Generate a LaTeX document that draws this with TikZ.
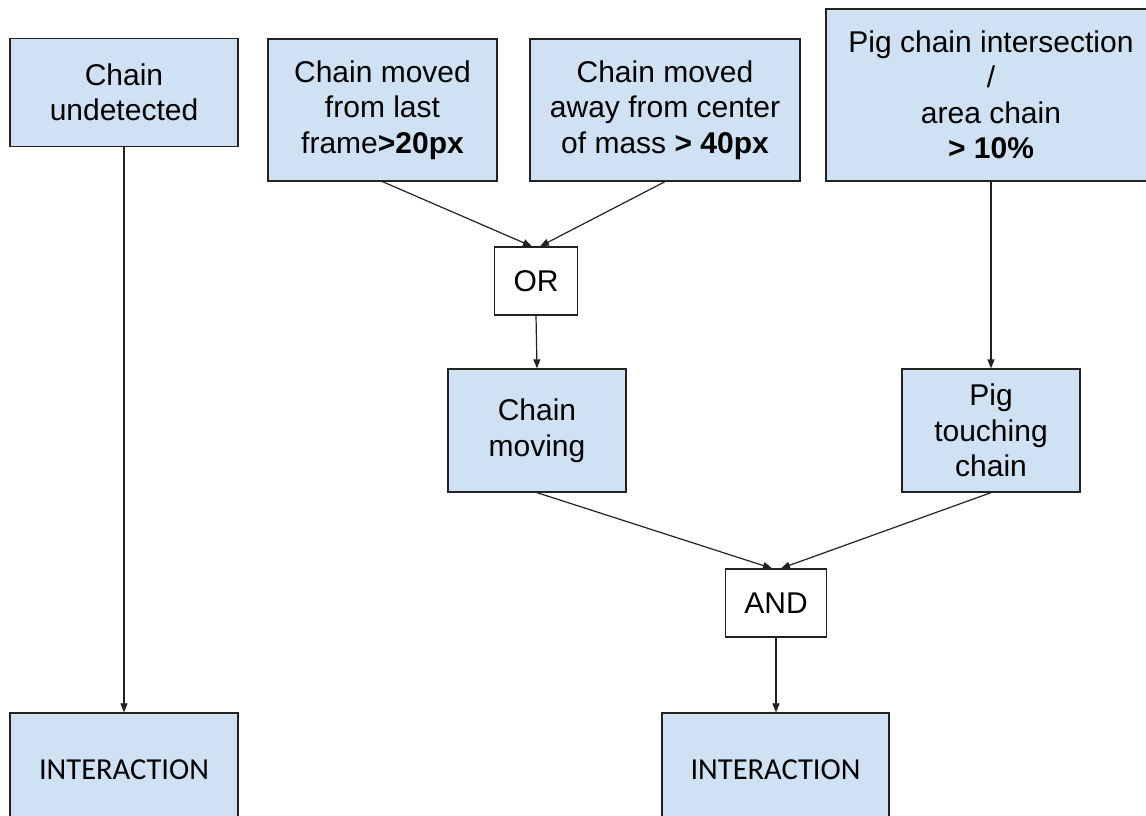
\documentclass[tikz,border=0pt]{standalone}
\usepackage{fontspec}
\setmainfont{Liberation Sans}
\newfontfamily\calib{Carlito}
\usetikzlibrary{arrows.meta}
\definecolor{boxblue}{HTML}{CFE2F3}
\definecolor{edge}{HTML}{222222}
\tikzset{
  base/.style={draw=edge, line width=1.3pt, align=center, inner sep=0pt,
               font=\fontsize{30}{35.5}\selectfont, text=black},
  bluebox/.style={base, fill=boxblue},
  gatebox/.style={base, fill=white},
  resultbox/.style={bluebox, minimum height=114pt,
               font=\calib\fontsize{30.5}{35}\selectfont},
  arr/.style={draw=edge, line width=1.2pt,
              -{Triangle[length=9pt,width=7pt]}}
}
\begin{document}
\begin{tikzpicture}[x=1pt,y=-1pt]
\clip (0,0) rectangle (1146,815);
\fill[white] (0,0) rectangle (1146,815);

% condition boxes along the top
\node[bluebox, minimum width=228pt, minimum height=108pt] (undet) at (124,92.5)
  {Chain\\undetected};
\node[bluebox, minimum width=229pt, minimum height=142pt] (last) at (382.5,110)
  {Chain moved\\from last\\frame\textbf{>20px}};
\node[bluebox, minimum width=270pt, minimum height=142pt] (com) at (665,110)
  {Chain moved\\away from center\\of mass \textbf{> 40px}};
\node[bluebox, minimum width=330pt, minimum height=172pt] (pig) at (991,95)
  {Pig chain intersection\\/\\area chain\\\textbf{> 10\%}};

% logic gates and intermediate states
\node[gatebox, minimum width=83pt, minimum height=68pt] (or) at (536,281) {OR};
\node[bluebox, minimum width=178pt, minimum height=123pt] (moving) at (537,430.5)
  {Chain\\moving};
\node[bluebox, minimum width=178pt, minimum height=123pt] (touch) at (991,430.5)
  {Pig\\touching\\chain};
\node[gatebox, minimum width=101pt, minimum height=68pt] (and) at (776,603) {AND};

% results
\node[resultbox, minimum width=228pt] (int1) at (124,770) {INTERACTION};
\node[resultbox, minimum width=227pt] (int2) at (775.5,770) {INTERACTION};

% connectors
\draw[arr] (undet.south) -- (int1.north);
\draw[arr] (last.south) -- ([xshift=-4pt]or.north);
\draw[arr] (com.south) -- ([xshift=4pt]or.north);
\draw[arr] (or.south) -- (moving.north);
\draw[arr] (pig.south) -- (touch.north);
\draw[arr] (moving.south) -- ([xshift=-4pt]and.north);
\draw[arr] (touch.south) -- ([xshift=5pt]and.north);
\draw[arr] (and.south) -- (and.south |- int2.north);
\end{tikzpicture}
\end{document}
